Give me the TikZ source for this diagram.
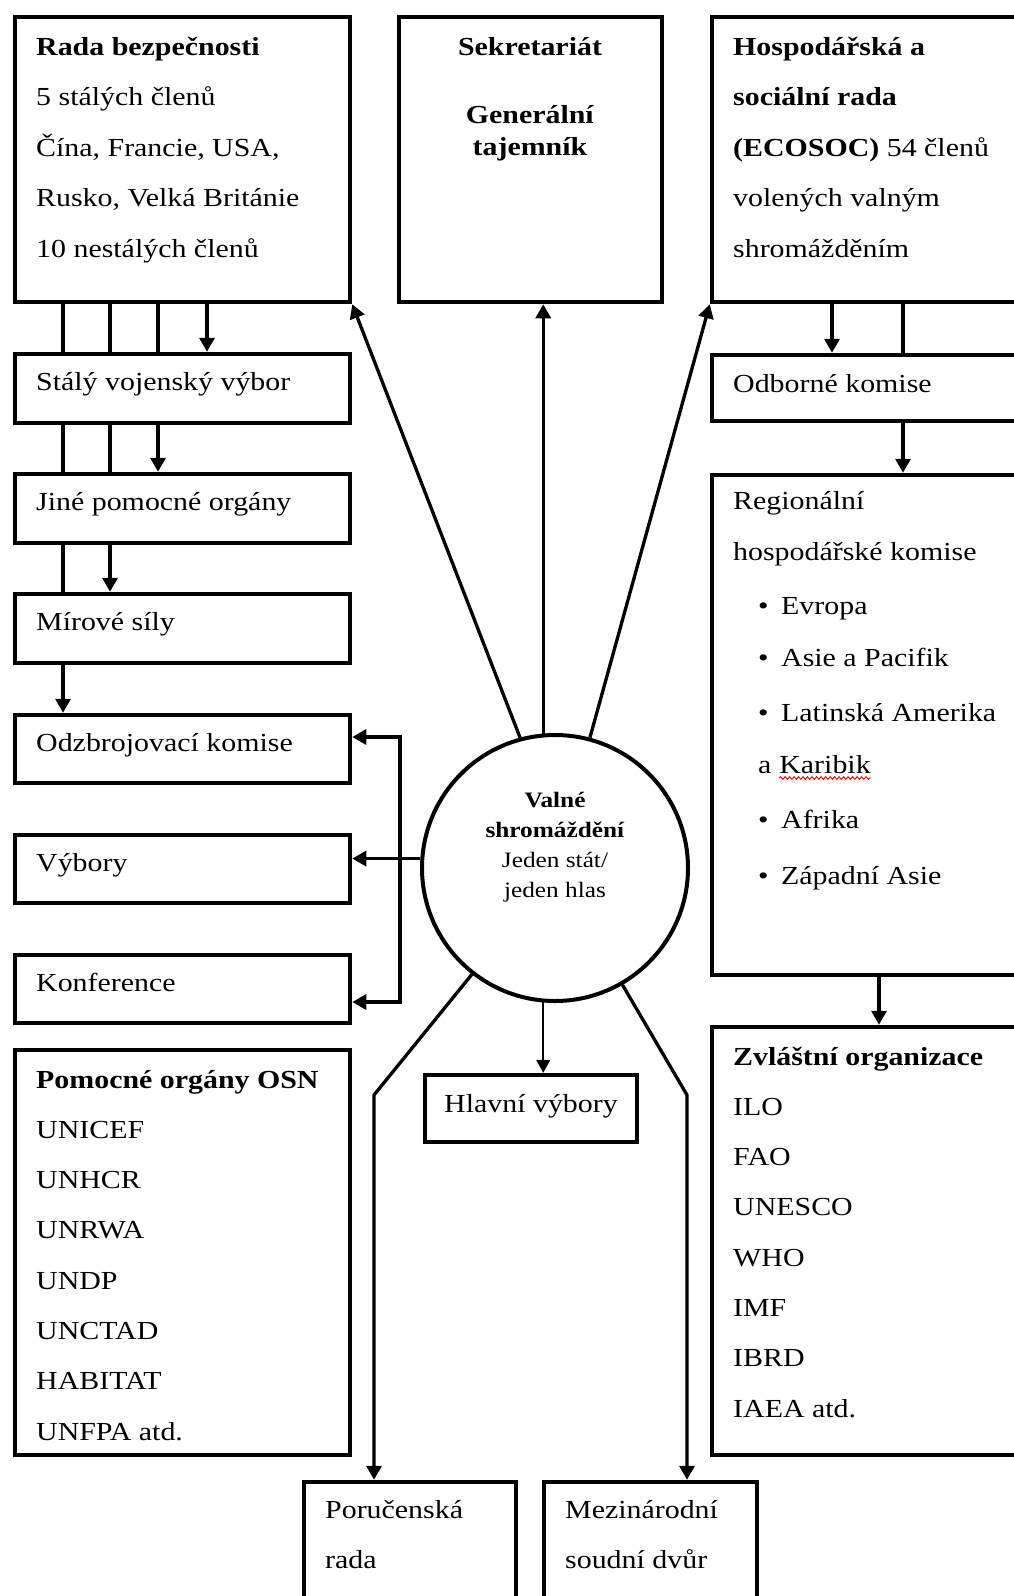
\documentclass[tikz,border=0pt]{standalone}
\usepackage{fontspec}
\setmainfont[FakeStretch=1.15]{Liberation Serif}
\usetikzlibrary{fit,positioning}
\usetikzlibrary{shapes,arrows.meta,decorations.pathmorphing}

\begin{document}
\begin{tikzpicture}[x=1pt,y=-1pt]
\tikzstyle{box}=[rectangle, draw=black, line width=4.5pt, inner sep=0pt]
\tikzstyle{assembly}=[circle, draw=black, line width=4pt, minimum size=266pt, inner sep=0pt]
\tikzstyle{txt}=[anchor=base west, inner sep=0pt, font=\fontsize{26pt}{50pt}\selectfont]
\tikzstyle{ctxt}=[txt, anchor=base]
\tikzstyle{link}=[line width=3.3pt]
\tikzstyle{connect}=[link, -{Triangle[width=15pt,length=14pt]}]
\tikzstyle{bracket}=[link, {Triangle[width=15pt,length=14pt]}-{Triangle[width=15pt,length=14pt]}]
\tikzstyle{thinconnect}=[line width=1.6pt, -{Triangle[width=14pt,length=13pt]}]
\tikzstyle{spell}=[red, line width=0.9pt, decorate, decoration={snake, amplitude=1.3pt, segment length=4.5pt}]
\useasboundingbox (0,0) rectangle (1013,1596);

% top row
\node[box, fit={(15,17) (350,302)}] (rada) {};
\node[box, fit={(399,17) (662,302)}] (sekr) {};
\node[box, fit={(712,17) (1040,302)}] (ecosoc) {};

% left column
\node[box, fit={(15,354) (350,423)}] (stal) {};
\node[box, fit={(15,474) (350,543)}] (jine) {};
\node[box, fit={(15,594) (350,663)}] (mir) {};
\node[box, fit={(15,715) (350,783)}] (odz) {};
\node[box, fit={(15,835) (350,903)}] (vyb) {};
\node[box, fit={(15,955) (350,1023)}] (konf) {};
\node[box, fit={(15,1050) (350,1455)}] (pomoc) {};

% right column
\node[box, fit={(712,355) (1040,421)}] (odb) {};
\node[box, fit={(712,475) (1040,975)}] (reg) {};
\node[box, fit={(712,1027) (1040,1455)}] (zvl) {};

% middle and bottom
\node[box, fit={(425,1075) (637,1142)}] (hlav) {};
\node[box, fit={(304,1482) (516,1630)}] (poruc) {};
\node[box, fit={(544,1482) (757,1630)}] (mez) {};

\node[assembly] (valne) at (555,868) [label={[name=valne-t, align=center, font=\fontsize{22pt}{30pt}\selectfont, yshift=21pt]center:{\textbf{Valné}\\\textbf{shromáždění}\\Jeden stát/\\jeden hlas}}] {};

% texts
\foreach \t [count=\i from 0] in {\textbf{Rada bezpečnosti}, 5 stálých členů, {Čína, Francie, USA,}, {Rusko, Velká Británie}, 10 nestálých členů}
  \node[txt] (rada-\i) at (36,55+50.5*\i) {\t};
\node[ctxt] (sekr-1) at (530,55) {\textbf{Sekretariát}};
\node[ctxt] (sekr-2) at (530,123) {\textbf{Generální}};
\node[ctxt] (sekr-3) at (530,155) {\textbf{tajemník}};
\foreach \t [count=\i from 0] in {\textbf{Hospodářská a}, \textbf{sociální rada}, \textbf{(ECOSOC)} 54 členů, volených valným, shromážděním}
  \node[txt] (ecosoc-\i) at (733,55+50.5*\i) {\t};

\node[txt] (stal-t) at (36,390) {Stálý vojenský výbor};
\node[txt] (jine-t) at (36,510) {Jiné pomocné orgány};
\node[txt] (mir-t) at (36,630) {Mírové síly};
\node[txt] (odz-t) at (36,751) {Odzbrojovací komise};
\node[txt] (vyb-t) at (36,871) {Výbory};
\node[txt] (konf-t) at (36,991) {Konference};
\foreach \t [count=\i from 0] in {\textbf{Pomocné orgány OSN}, UNICEF, UNHCR, UNRWA, UNDP, UNCTAD, HABITAT, UNFPA atd.}
  \node[txt] (pomoc-\i) at (36,1088+50.3*\i) {\t};

\node[txt] (odb-t) at (733,392) {Odborné komise};
\node[txt] (reg-1) at (733,509) {Regionální};
\node[txt] (reg-2) at (733,560) {hospodářské komise};
\foreach \t/\yy [count=\i from 3] in {Evropa/614, Asie a Pacifik/666, Latinská Amerika/721}
  \node[txt] (reg-\i) at (758,\yy) {\makebox[23pt][l]{\textbullet}\t};
\node[txt] (reg-6) at (758,773) {a};
\node[txt] (reg-kar) at ([xshift=7.5pt]reg-6.base east) {Karibik};
\foreach \t/\yy [count=\i from 7] in {Afrika/828, Západní Asie/884}
  \node[txt] (reg-\i) at (758,\yy) {\makebox[23pt][l]{\textbullet}\t};
\foreach \t [count=\i from 0] in {\textbf{Zvláštní organizace}, ILO, FAO, UNESCO, WHO, IMF, IBRD, IAEA atd.}
  \node[txt] (zvl-\i) at (733,1065+50.3*\i) {\t};

\node[ctxt] (hlav-t) at (531,1112) {Hlavní výbory};
\node[txt] (poruc-1) at (325,1518) {Poručenská};
\node[txt] (poruc-2) at (325,1568) {rada};
\node[txt] (mez-1) at (565,1518) {Mezinárodní};
\node[txt] (mez-2) at (565,1568) {soudní dvůr};

\draw[spell] ([yshift=-5pt]reg-kar.base west) -- ([yshift=-5pt]reg-kar.base east);

% ladder under the security council
\coordinate (c1) at (63,0);
\coordinate (c2) at (110,0);
\coordinate (c3) at (158,0);
\coordinate (c4) at (207,0);
\foreach \u/\v/\k in {rada/stal/4, stal/jine/3, jine/mir/2, mir/odz/1} {
  \foreach \j in {1,...,\k} {
    \ifnum\j<\k
      \draw[link] (\u.south -| c\j) -- (\v.north -| c\j);
    \else
      \draw[connect] (\u.south -| c\j) -- (\v.north -| c\j);
    \fi
  }
}

% ecosoc branch
\coordinate (e1) at (832,0);
\coordinate (e2) at (903,0);
\coordinate (e3) at (879,0);
\draw[connect] (ecosoc.south -| e1) -- (odb.north -| e1);
\draw[link] (ecosoc.south -| e2) -- (odb.north -| e2);
\draw[connect] (odb.south -| e2) -- (reg.north -| e2);
\draw[connect] (reg.south -| e3) -- (zvl.north -| e3);

% from the general assembly
\draw[connect] (valne.105) -- (rada.south east);
\draw[connect] (valne.95) -- (valne.95 |- sekr.south);
\draw[connect] (valne.75) -- (ecosoc.south west);
\draw[connect] (valne.176) -- (valne.176 -| vyb.east);
\coordinate (b1) at (400,737);
\coordinate (b2) at (400,1002);
\draw[bracket] (b1 -| odz.east) -- (b1) -- (b2) -- (b2 -| konf.east);
\draw[thinconnect] (valne.265) -- (valne.265 |- hlav.north);
\coordinate (p1) at (374,1095);
\coordinate (q1) at (687,1095);
\draw[connect] (valne.232) -- (p1) -- (p1 |- poruc.north);
\draw[connect] (valne.300) -- (q1) -- (q1 |- mez.north);

\end{tikzpicture}
\end{document}
